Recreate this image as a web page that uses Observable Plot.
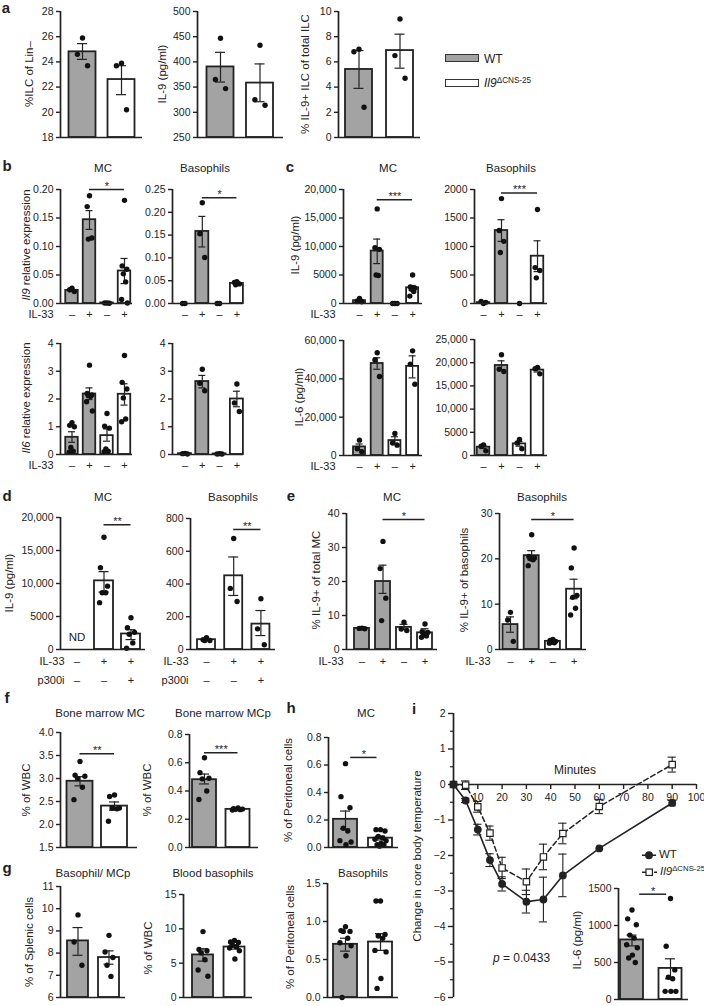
<!DOCTYPE html>
<html><head><meta charset="utf-8">
<script src="https://cdn.jsdelivr.net/npm/d3@7"></script>
<script src="https://cdn.jsdelivr.net/npm/@observablehq/plot@0.6"></script>
<style>
body{margin:0;background:#fff;}
#fig{position:relative;width:704px;height:1006px;overflow:hidden;font-family:"Liberation Sans",Arial,Helvetica,sans-serif;color:#222;background:#fff;}
.lab{position:absolute;white-space:nowrap;line-height:1;}
.lab sup{font-size:0.68em;vertical-align:0.55em;line-height:0;}
.sw{position:absolute;box-sizing:border-box;border:1.3px solid #333;}
</style></head><body><div id="fig"></div>
<script>
// ================= DATA =================
// ---- a ----
const aGroups = ["WT", "KO"];
const a1Ticks = [18, 20, 22, 24, 26, 28];
const a1Mean = [24.8, 22.6];
const a1Lo = [24.2, 21.4];
const a1Hi = [25.45, 23.7];
const a1Pts = [[25.9, 24.6, 23.7], [23.9, 23.7, 20.2]];
const a2Ticks = [250, 300, 350, 400, 450, 500];
const a2Mean = [390, 358];
const a2Lo = [360, 321];
const a2Hi = [419, 396];
const a2Pts = [[447, 365, 347], [433, 325, 314]];
const a3Ticks = [0, 2, 4, 6, 8, 10];
const a3Mean = [5.4, 6.9];
const a3Lo = [3.9, 5.5];
const a3Hi = [6.9, 8.2];
const a3Pts = [[7.0, 6.8, 2.4], [9.4, 6.5, 4.7]];

// ---- b / c : IL-33 stimulation ----
const bcGroups = ["WT", "WT", "KO", "KO"];
const il33Signs = ["–", "+", "–", "+"];
const b1Ticks = [0, 0.05, 0.10, 0.15, 0.20];
const b1Mean = [0.023, 0.147, 0.001, 0.057];
const b1Lo = [0.021, 0.130, null, 0.035];
const b1Hi = [0.025, 0.163, null, 0.079];
const b1Pts = [[0.027, 0.024, 0.021], [0.189, 0.170, 0.115, 0.113], [0.001, 0.001, 0.0005], [0.181, 0.066, 0.060, 0.052, 0.038, 0.007, 0.001]];
const b2Ticks = [0, 0.05, 0.10, 0.15, 0.20, 0.25];
const b2Mean = [0.0, 0.158, 0.0, 0.044];
const b2Lo = [null, 0.124, null, 0.042];
const b2Hi = [null, 0.191, null, 0.046];
const b2Pts = [[0.0, 0.0], [0.221, 0.153, 0.101], [0.0, 0.0], [0.048, 0.046, 0.043, 0.041]];
const c1Ticks = [0, 5000, 10000, 15000, 20000];
const c1Mean = [500, 9200, 0, 2750];
const c1Lo = [300, 7000, null, 2300];
const c1Hi = [750, 11300, null, 3160];
const c1Pts = [[900, 350, 300], [16600, 9800, 9500, 5000, 4900], [0, 0, 0], [5000, 2900, 2700, 2500, 2100, 1300]];
const c2Ticks = [0, 500, 1000, 1500, 2000];
const c2Mean = [15, 1280, 0, 830];
const c2Lo = [5, 1090, null, 560];
const c2Hi = [25, 1470, null, 1100];
const c2Pts = [[0, 35, 20], [1840, 1280, 1090, 895], [0], [1650, 630, 580, 450]];
const b3Ticks = [0, 1, 2, 3, 4];
const b3Mean = [0.62, 2.18, 0.68, 2.17];
const b3Lo = [0.44, 1.98, 0.48, 1.78];
const b3Hi = [0.82, 2.40, 0.92, 2.55];
const b3Pts = [[1.15, 1.05, 1.0, 0.25, 0.12, 0.08], [3.22, 2.2, 2.15, 2.12, 2.1, 1.9, 1.57], [1.48, 1.02, 0.95, 0.2, 0.12, 0.1], [3.57, 2.6, 2.36, 2.04, 1.28, 1.18]];
const b4Ticks = [0, 1, 2, 3, 4];
const b4Mean = [0.03, 2.63, 0.02, 2.0];
const b4Lo = [null, 2.4, null, 1.72];
const b4Hi = [null, 2.85, null, 2.28];
const b4Pts = [[0.04, 0.03, 0.02], [3.07, 2.57, 2.3], [0.03, 0.02, 0.02], [2.54, 1.86, 1.55]];
const c3Ticks = [0, 20000, 40000, 60000];
const c3Mean = [4500, 48000, 7800, 46500];
const c3Lo = [3000, 45000, 6500, 40500];
const c3Hi = [6000, 51000, 9800, 52000];
const c3Pts = [[8000, 3500, 2000], [53600, 49800, 41200], [11500, 6500, 5400], [54600, 47700, 37200]];
const c4Ticks = [0, 5000, 10000, 15000, 20000, 25000];
const c4Mean = [1800, 19400, 2500, 18400];
const c4Lo = [1500, 18500, 2000, 18000];
const c4Hi = [2100, 20400, 3000, 18800];
const c4Pts = [[2300, 2000, 1000], [21700, 18600, 18100], [3450, 2700, 1440], [19000, 18700, 17600]];

// ---- d : p300 inhibitor ----
const dGroups = ["KO", "KO", "KO"];
const dIl33Signs = ["–", "+", "+"];
const dP300Signs = ["–", "–", "+"];
const d1Ticks = [0, 5000, 10000, 15000, 20000];
const d1Mean = [null, 10400, 2350];
const d1Lo = [null, 8700, 1500];
const d1Hi = [null, 11800, 3000];
const d1Pts = [[], [17000, 12400, 9600, 8600, 8600, 7100], [4800, 3300, 2600, 2300, 1000, 200]];
const d2Ticks = [0, 200, 400, 600, 800];
const d2Mean = [60, 450, 155];
const d2Lo = [55, 330, 85];
const d2Hi = [66, 565, 238];
const d2Pts = [[72, 60, 55, 55], [678, 373, 293], [310, 126, 29]];

// ---- e ----
const e1Ticks = [0, 10, 20, 30, 40];
const e1Mean = [6.2, 20.0, 6.5, 4.9];
const e1Lo = [6.1, 16.5, 5.9, 3.9];
const e1Hi = [6.3, 24.8, 7.4, 6.1];
const e1Pts = [[6.3, 6.2, 6.1], [31.8, 23.8, 15.1, 8.5], [8.0, 6.0, 5.6], [7.5, 5.2, 5.0, 4.5, 4.0, 3.6]];
const e2Ticks = [0, 10, 20, 30];
const e2Mean = [5.5, 20.7, 1.8, 13.3];
const e2Lo = [3.8, 19.8, 1.6, 11.2];
const e2Hi = [7.2, 21.8, 2.0, 15.5];
const e2Pts = [[8.2, 6.5, 1.8], [25.3, 20.5, 20.2, 20.0, 19.8, 18.5], [2.2, 2.0, 1.8, 1.6, 1.5, 1.4], [22.4, 18.0, 11.9, 11.5, 9.1, 7.6]];

// ---- f / g / h : two groups ----
const fGroups = ["WT", "KO"];
const f1Ticks = [1.5, 2.0, 2.5, 3.0, 3.5, 4.0];
const f1Mean = [2.94, 2.40];
const f1Lo = [2.84, 2.31];
const f1Hi = [3.04, 2.49];
const f1Pts = [[3.37, 3.07, 3.05, 3.0, 2.81, 2.54], [2.64, 2.61, 2.36, 2.36, 2.34, 2.07]];
const f2Ticks = [0, 0.2, 0.4, 0.6, 0.8];
const f2Mean = [0.48, 0.27];
const f2Lo = [0.45, 0.265];
const f2Hi = [0.52, 0.276];
const f2Pts = [[0.635, 0.53, 0.49, 0.486, 0.40, 0.34], [0.28, 0.275, 0.272, 0.27, 0.268, 0.265]];
const h1Ticks = [0, 0.2, 0.4, 0.6, 0.8];
const h1Mean = [0.205, 0.068];
const h1Lo = [0.135, 0.055];
const h1Hi = [0.265, 0.082];
const h1Pts = [[0.61, 0.37, 0.29, 0.14, 0.12, 0.05, 0.04, 0.02], [0.13, 0.13, 0.12, 0.08, 0.07, 0.06, 0.05, 0.03, 0.02, 0.02, 0.01]];
const g1Ticks = [6, 7, 8, 9, 10, 11];
const g1Mean = [8.55, 7.8];
const g1Lo = [7.9, 7.5];
const g1Hi = [9.15, 8.1];
const g1Pts = [[9.72, 8.5, 7.45], [8.8, 8.05, 7.8, 7.45, 6.95]];
const g2Ticks = [0, 5, 10, 15];
const g2Mean = [6.2, 7.35];
const g2Lo = [5.3, 7.05];
const g2Hi = [7.1, 7.65];
const g2Pts = [[9.6, 7.0, 6.8, 6.5, 5.5, 4.0, 3.1], [8.3, 8.1, 8.0, 7.6, 7.4, 7.2, 6.8, 5.6]];
const h2Ticks = [0, 0.5, 1.0, 1.5];
const h2Mean = [0.70, 0.73];
const h2Lo = [0.61, 0.62];
const h2Hi = [0.78, 0.84];
const h2Pts = [[0.93, 0.88, 0.87, 0.87, 0.78, 0.72, 0.68, 0.55, 0.0], [1.27, 1.27, 0.83, 0.81, 0.78, 0.62, 0.6, 0.25, 0.12]];

// ---- i : core body temperature ----
const iTimeWT = [0, 5, 10, 15, 20, 30, 37, 45, 60, 90];
const iWT = [0, -0.45, -1.27, -2.13, -2.8, -3.3, -3.24, -2.56, -1.8, -0.52];
const iWTerr = [0, 0.06, 0.15, 0.18, 0.2, 0.32, 0.63, 0.6, 0, 0.08];
const iTimeKO = [0, 5, 10, 15, 20, 30, 37, 45, 60, 90];
const iKO = [0, -0.02, -0.63, -1.37, -2.35, -2.74, -2.04, -1.38, -0.62, 0.56];
const iKOerr = [0, 0.12, 0.15, 0.2, 0.3, 0.36, 0.36, 0.29, 0.2, 0.21];
const iYTicks = [-6, -5, -4, -3, -2, -1, 0, 1, 2];
const iYMinor = [-5.5, -4.5, -3.5, -2.5, -1.5, -0.5, 0.5, 1.5];
const iXTicks = [10, 20, 30, 40, 50, 60, 70, 80, 90, 100];
// inset IL-6
const i6Ticks = [0, 500, 1000, 1500];
const i6Mean = [805, 420];
const i6Lo = [725, 280];
const i6Hi = [870, 550];
const i6Pts = [[1210, 1090, 1010, 870, 830, 740, 700, 600, 560, 500], [1365, 720, 400, 300, 280, 110, 110, 110]];

// ================= RENDER =================
const FONT = '"Liberation Sans", Arial, Helvetica, sans-serif';
const INK = "#222";
const GRAY = "#a3a3a3";
const fig = document.getElementById("fig");
const jitPat = [0, -0.5, 0.5, -0.25, 0.25, -0.62, 0.62, 0.05, -0.38, 0.38, -0.1];
const jit = (k, n) => (n <= 1 ? 0 : jitPat[k % jitPat.length]);
const fmtNum = d => (Math.abs(d) >= 10000 ? d3.format(",")(d) : String(d));
const f2 = d3.format(".2f"), f1 = d3.format(".1f");

function place(el, left, top) {
  el.style.position = "absolute";
  el.style.left = left + "px";
  el.style.top = top + "px";
  fig.appendChild(el);
}

function lab(html, x, y, o = {}) {
  const d = document.createElement("div");
  d.className = "lab";
  d.innerHTML = html;
  d.style.fontSize = (o.size || 11.5) + "px";
  if (o.bold) d.style.fontWeight = "bold";
  d.style.left = x + "px";
  d.style.top = y + "px";
  const tx = o.anchor === "start" ? "0" : o.anchor === "end" ? "-100%" : "-50%";
  d.style.transform = `translate(${tx}, -50%)` + (o.rotate ? ` rotate(${o.rotate}deg)` : "");
  fig.appendChild(d);
}

function barPanel(o) {
  const ml = 50, mr = 10, mt = 30, mb = 45;
  const W = ml + (o.end - o.ax) + mr;
  const H = mt + (o.yBot - o.yTop) + mb;
  const n = o.mean.length;
  const idx = d3.range(n);
  const x0 = (o.ax - o.c0) / o.s, x1 = (o.end - o.c0) / o.s;
  const hw = o.w / 2 / o.s;
  const cap = (o.cap || 4) / o.s;
  const [ymin, ymax] = o.domain;
  const fmt = o.fmt || fmtNum;
  const has = i => o.mean[i] != null;
  const wt = idx.filter(i => has(i) && o.groups[i] === "WT");
  const ko = idx.filter(i => has(i) && o.groups[i] !== "WT");
  const errs = idx.filter(i => o.lo[i] != null);
  const caps = errs.flatMap(i => [{i, v: o.lo[i]}, {i, v: o.hi[i]}]);
  const dots = idx.flatMap(i => (o.pts[i] || []).map((v, k, arr) => ({i, v, k, n: arr.length})));
  const marks = [
    Plot.rectY(wt, {x1: i => i - hw, x2: i => i + hw, y1: () => ymin, y2: i => o.mean[i], fill: GRAY, stroke: INK, strokeWidth: 1.8}),
    Plot.rectY(ko, {x1: i => i - hw, x2: i => i + hw, y1: () => ymin, y2: i => o.mean[i], fill: "white", stroke: INK, strokeWidth: 1.8}),
    Plot.ruleX(errs, {x: i => i, y1: i => o.lo[i], y2: i => o.hi[i], stroke: INK, strokeWidth: 1.2}),
    Plot.ruleY(caps, {y: d => d.v, x1: d => d.i - cap, x2: d => d.i + cap, stroke: INK, strokeWidth: 1.2}),
    Plot.dot(dots, {x: d => d.i + jit(d.k, d.n) * hw * 0.75, y: d => d.v, r: 2.7, fill: "#111", stroke: "none"}),
    // axes
    Plot.ruleY([ymin], {stroke: INK, strokeWidth: 1.7}),
    Plot.ruleX([x0], {x: d => d, y1: () => ymin, y2: () => ymax, stroke: INK, strokeWidth: 1.7}),
    Plot.ruleY(o.ticks, {y: d => d, x1: () => x0, x2: () => x0, insetLeft: -4, stroke: INK, strokeWidth: 1.4}),
    Plot.text(o.ticks, {y: d => d, x: () => x0, dx: -7, textAnchor: "end", text: fmt, fontSize: 10.5, fill: INK})
  ];
  (o.rows || []).forEach(r => {
    marks.push(Plot.text(idx, {x: i => i, text: i => r.signs[i], frameAnchor: "bottom", dy: r.dy, fontSize: 11, fill: INK}));
    if (r.label) marks.push(Plot.text([r.label], {text: d => d, frameAnchor: "bottom-left", dx: o.rowDx || -7, dy: r.dy, textAnchor: "end", fontSize: 11, fill: INK}));
  });
  if (o.sig) {
    marks.push(Plot.ruleY([o.sig], {y: d => d.y, x1: d => d.a, x2: d => d.b, stroke: INK, strokeWidth: 1.5}));
    marks.push(Plot.text([o.sig], {x: d => (d.a + d.b) / 2, y: d => d.y, text: d => d.label, dy: -3, fontSize: 11, fill: INK}));
  }
  if (o.note) marks.push(Plot.text([o.note], {x: d => d.i, text: d => d.text, frameAnchor: "bottom", dy: -9, fontSize: 11.5, fill: INK}));
  const svg = Plot.plot({
    width: W, height: H, marginLeft: ml, marginRight: mr, marginTop: mt, marginBottom: mb,
    x: {domain: [x0, x1], axis: null},
    y: {domain: [ymin, ymax], axis: null},
    style: {background: "transparent", fontFamily: FONT, overflow: "visible", color: INK},
    marks
  });
  place(svg, o.ax - ml, o.yTop - mt);
}

// ---- geometry (layout) ----
const A1 = {ax: 60, end: 142, yTop: 11, yBot: 137, c0: 82, s: 39, w: 27};
const A2 = {ax: 197, end: 283, yTop: 11, yBot: 137, c0: 220, s: 39.5, w: 27};
const A3 = {ax: 338, end: 420, yTop: 11, yBot: 137, c0: 358.5, s: 41, w: 27};
const XB1 = {ax: 60, end: 132, c0: 71.5, s: 17.5, w: 12.5, cap: 3.5};
const XB2 = {ax: 172, end: 243, c0: 184.5, s: 17.3, w: 13, cap: 3.5};
const XC1 = {ax: 343, end: 422, c0: 359, s: 17.7, w: 12, cap: 3.5};
const XC2 = {ax: 474, end: 547, c0: 483, s: 18, w: 12.5, cap: 3.5};
const ROW = [{signs: il33Signs, dy: 14, label: "IL-33"}];
const ROWn = [{signs: il33Signs, dy: 14}];

barPanel({...A1, domain: [18, 28], ticks: a1Ticks, groups: aGroups, mean: a1Mean, lo: a1Lo, hi: a1Hi, pts: a1Pts, cap: 5});
barPanel({...A2, domain: [250, 500], ticks: a2Ticks, groups: aGroups, mean: a2Mean, lo: a2Lo, hi: a2Hi, pts: a2Pts, cap: 5});
barPanel({...A3, domain: [0, 10], ticks: a3Ticks, groups: aGroups, mean: a3Mean, lo: a3Lo, hi: a3Hi, pts: a3Pts, cap: 5});

barPanel({...XB1, yTop: 189, yBot: 303, domain: [0, 0.2], ticks: b1Ticks, fmt: f2, groups: bcGroups, mean: b1Mean, lo: b1Lo, hi: b1Hi, pts: b1Pts, rows: ROW, rowDx: -7, sig: {a: 1, b: 3, y: 0.2, label: "*"}});
barPanel({...XB2, yTop: 189, yBot: 303, domain: [0, 0.25], ticks: b2Ticks, fmt: f2, groups: bcGroups, mean: b2Mean, lo: b2Lo, hi: b2Hi, pts: b2Pts, rows: ROWn, sig: {a: 1, b: 3, y: 0.232, label: "*"}});
barPanel({...XC1, yTop: 189, yBot: 303, domain: [0, 20000], ticks: c1Ticks, groups: bcGroups, mean: c1Mean, lo: c1Lo, hi: c1Hi, pts: c1Pts, rows: ROW, rowDx: -8, sig: {a: 1, b: 3, y: 18200, label: "***"}});
barPanel({...XC2, yTop: 189, yBot: 303, domain: [0, 2000], ticks: c2Ticks, groups: bcGroups, mean: c2Mean, lo: c2Lo, hi: c2Hi, pts: c2Pts, rows: ROWn, sig: {a: 1, b: 3, y: 1940, label: "***"}});

barPanel({...XB1, yTop: 343, yBot: 454, domain: [0, 4], ticks: b3Ticks, groups: bcGroups, mean: b3Mean, lo: b3Lo, hi: b3Hi, pts: b3Pts, rows: ROW, rowDx: -7});
barPanel({...XB2, yTop: 343, yBot: 454, domain: [0, 4], ticks: b4Ticks, groups: bcGroups, mean: b4Mean, lo: b4Lo, hi: b4Hi, pts: b4Pts, rows: ROWn});
barPanel({...XC1, yTop: 340, yBot: 455, domain: [0, 60000], ticks: c3Ticks, groups: bcGroups, mean: c3Mean, lo: c3Lo, hi: c3Hi, pts: c3Pts, rows: ROW, rowDx: -8});
barPanel({...XC2, yTop: 339, yBot: 455, domain: [0, 25000], ticks: c4Ticks, groups: bcGroups, mean: c4Mean, lo: c4Lo, hi: c4Hi, pts: c4Pts, rows: ROWn});

const DROWS = [{signs: dIl33Signs, dy: 15, label: "IL-33"}, {signs: dP300Signs, dy: 34, label: "p300i"}];
barPanel({ax: 60, end: 145, yTop: 517, yBot: 649, c0: 76.5, s: 27, w: 19, cap: 5, domain: [0, 20000], ticks: d1Ticks, groups: dGroups, mean: d1Mean, lo: d1Lo, hi: d1Hi, pts: d1Pts, rows: DROWS, rowDx: 4, sig: {a: 1, b: 2, y: 18900, label: "**"}, note: {i: 0, text: "ND"}});
barPanel({ax: 190, end: 275, yTop: 518, yBot: 649, c0: 206, s: 27.2, w: 18, cap: 5, domain: [0, 800], ticks: d2Ticks, groups: dGroups, mean: d2Mean, lo: d2Lo, hi: d2Hi, pts: d2Pts, rows: DROWS, rowDx: -2, sig: {a: 1, b: 2, y: 733, label: "**"}});
const EROW = [{signs: il33Signs, dy: 15, label: "IL-33"}];
barPanel({ax: 346, end: 437, yTop: 513, yBot: 649, c0: 361.5, s: 21, w: 15, cap: 4, domain: [0, 40], ticks: e1Ticks, groups: bcGroups, mean: e1Mean, lo: e1Lo, hi: e1Hi, pts: e1Pts, rows: EROW, rowDx: -3, sig: {a: 1, b: 3, y: 38.2, label: "*"}});
barPanel({ax: 499, end: 586, yTop: 513, yBot: 649, c0: 510, s: 21.2, w: 15, cap: 4, domain: [0, 30], ticks: e2Ticks, groups: bcGroups, mean: e2Mean, lo: e2Lo, hi: e2Hi, pts: e2Pts, rows: EROW, rowDx: -9, sig: {a: 1, b: 3, y: 28.7, label: "*"}});

barPanel({ax: 60, end: 137, yTop: 732, yBot: 847, c0: 79.5, s: 34.5, w: 26, cap: 5, domain: [1.5, 4.0], ticks: f1Ticks, fmt: f1, groups: fGroups, mean: f1Mean, lo: f1Lo, hi: f1Hi, pts: f1Pts, sig: {a: 0, b: 1, y: 3.54, label: "**"}});
barPanel({ax: 189, end: 258, yTop: 734, yBot: 847, c0: 204, s: 33.5, w: 24, cap: 5, domain: [0, 0.8], ticks: f2Ticks, fmt: f1, groups: fGroups, mean: f2Mean, lo: f2Lo, hi: f2Hi, pts: f2Pts, sig: {a: 0, b: 1, y: 0.67, label: "***"}});
barPanel({ax: 328, end: 398, yTop: 737, yBot: 847, c0: 345, s: 35, w: 24, cap: 5, domain: [0, 0.8], ticks: h1Ticks, fmt: f1, groups: fGroups, mean: h1Mean, lo: h1Lo, hi: h1Hi, pts: h1Pts, sig: {a: 0.15, b: 0.9, y: 0.655, label: "*"}});
barPanel({ax: 60, end: 125, yTop: 886, yBot: 997, c0: 77.5, s: 31, w: 21, cap: 5, domain: [6, 11], ticks: g1Ticks, groups: fGroups, mean: g1Mean, lo: g1Lo, hi: g1Hi, pts: g1Pts});
barPanel({ax: 183, end: 252, yTop: 894, yBot: 997, c0: 202.5, s: 31.5, w: 21, cap: 5, domain: [0, 15], ticks: g2Ticks, groups: fGroups, mean: g2Mean, lo: g2Lo, hi: g2Hi, pts: g2Pts});
barPanel({ax: 327, end: 398, yTop: 883, yBot: 997, c0: 345, s: 35, w: 24, cap: 5, domain: [0, 1.5], ticks: h2Ticks, fmt: f1, groups: fGroups, mean: h2Mean, lo: h2Lo, hi: h2Hi, pts: h2Pts});

// ---- i : time course ----
(function () {
  const ml = 50, mr = 10, mt = 20, mb = 20;
  const ax = 453, end = 696, yTop = 713, yBot = 997;
  const W = ml + (end - ax) + mr, H = mt + (yBot - yTop) + mb;
  const wt = iTimeWT.map((t, k) => ({t, v: iWT[k], e: iWTerr[k]}));
  const ko = iTimeKO.map((t, k) => ({t, v: iKO[k], e: iKOerr[k]}));
  const wtE = wt.filter(d => d.e > 0), koE = ko.filter(d => d.e > 0);
  const capsOf = arr => arr.flatMap(d => [{t: d.t, v: d.v - d.e}, {t: d.t, v: d.v + d.e}]);
  const cw = 1.7;
  const svg = Plot.plot({
    width: W, height: H, marginLeft: ml, marginRight: mr, marginTop: mt, marginBottom: mb,
    x: {domain: [0, 100], axis: null},
    y: {domain: [-6, 2], axis: null},
    style: {background: "transparent", fontFamily: FONT, overflow: "visible", color: INK},
    marks: [
      Plot.ruleX([0], {x: d => d, y1: () => -6, y2: () => 2, stroke: INK, strokeWidth: 1.7}),
      Plot.ruleY(iYTicks, {y: d => d, x1: () => 0, x2: () => 0, insetLeft: -5, stroke: INK, strokeWidth: 1.4}),
      Plot.ruleY(iYMinor, {y: d => d, x1: () => 0, x2: () => 0, insetLeft: -3, stroke: INK, strokeWidth: 1.2}),
      Plot.text(iYTicks, {y: d => d, x: () => 0, dx: -8, textAnchor: "end", text: d => d3.format("d")(d), fontSize: 10.5, fill: INK}),
      Plot.ruleY([0], {x1: () => 0, x2: () => 100, stroke: INK, strokeWidth: 1.7}),
      Plot.ruleX(iXTicks, {x: d => d, y1: () => 0, y2: () => 0, insetBottom: -5, stroke: INK, strokeWidth: 1.4}),
      Plot.text(iXTicks, {x: d => d, y: () => 0, dy: 13, text: d => String(d), fontSize: 10.5, fill: INK}),
      Plot.ruleX(koE, {x: "t", y1: d => d.v - d.e, y2: d => d.v + d.e, stroke: INK, strokeWidth: 1.1}),
      Plot.ruleY(capsOf(koE), {y: "v", x1: d => d.t - cw, x2: d => d.t + cw, stroke: INK, strokeWidth: 1.1}),
      Plot.ruleX(wtE, {x: "t", y1: d => d.v - d.e, y2: d => d.v + d.e, stroke: INK, strokeWidth: 1.1}),
      Plot.ruleY(capsOf(wtE), {y: "v", x1: d => d.t - cw, x2: d => d.t + cw, stroke: INK, strokeWidth: 1.1}),
      Plot.line(ko, {x: "t", y: "v", stroke: INK, strokeWidth: 1.5, strokeDasharray: "5,3"}),
      Plot.line(wt, {x: "t", y: "v", stroke: INK, strokeWidth: 1.6}),
      Plot.dot(ko, {x: "t", y: "v", symbol: "square", r: 3.6, fill: "white", stroke: INK, strokeWidth: 1.2}),
      Plot.dot(wt, {x: "t", y: "v", r: 3.9, fill: INK, stroke: "none"})
    ]
  });
  place(svg, ax - ml, yTop - mt);
})();

// inset IL-6
barPanel({ax: 618, end: 688, yTop: 888, yBot: 999, c0: 631.5, s: 38.5, w: 23, cap: 5, domain: [0, 1500], ticks: i6Ticks, groups: fGroups, mean: i6Mean, lo: i6Lo, hi: i6Hi, pts: i6Pts, sig: {a: 0.2, b: 0.9, y: 1423, label: "*"}});

// ================= TEXT (titles, axis labels, letters, legends) =================
const KO_HTML = "<i>Il9</i><sup>ΔCNS-25</sup>";
// panel letters
[["a", 6, 7], ["b", 7, 165], ["c", 290, 166], ["d", 7, 495], ["e", 291, 495], ["f", 7, 697], ["g", 7, 867], ["h", 291, 707], ["i", 414, 708]]
  .forEach(([t, x, y]) => lab(t, x, y, {size: 15, bold: true}));
// titles
[["MC", 103, 169], ["Basophils", 205, 169], ["MC", 388, 169], ["Basophils", 511, 169],
 ["MC", 103, 498], ["Basophils", 233, 498], ["MC", 392, 498], ["Basophils", 542, 498],
 ["Bone marrow MC", 100, 714], ["Bone marrow MCp", 223, 714], ["MC", 366, 714],
 ["Basophil/ MCp", 93, 874], ["Blood basophils", 213, 874], ["Basophils", 363, 874]]
  .forEach(([t, x, y]) => lab(t, x, y, {size: 11.5}));
// y-axis labels
[["%ILC of Lin–", 30, 74], ["IL-9 (pg/ml)", 163, 74], ["% IL-9+ ILC of total ILC", 306, 74],
 ["<i>Il9</i> relative expression", 27, 245], ["IL-9 (pg/ml)", 296, 245],
 ["<i>Il6</i> relative expression", 27, 398], ["IL-6 (pg/ml)", 300, 397],
 ["IL-9 (pg/ml)", 10, 583], ["% IL-9+ of total MC", 317, 580], ["% IL-9+ of basophils", 465, 580],
 ["% of WBC", 27, 790], ["% of WBC", 148, 790], ["% of Peritoneal cells", 289, 790],
 ["% of Splenic cells", 30, 942], ["% of WBC", 149, 948], ["% of Peritoneal cells", 291, 937],
 ["Change in core body temperature", 418, 856], ["IL-6 (pg/ml)", 578, 940]]
  .forEach(([t, x, y]) => lab(t, x, y, {size: 11.5, rotate: -90}));
// legend a
(function () {
  const s1 = document.createElement("div"); s1.className = "sw";
  Object.assign(s1.style, {left: "445px", top: "54px", width: "34px", height: "8px", background: GRAY});
  const s2 = document.createElement("div"); s2.className = "sw";
  Object.assign(s2.style, {left: "445px", top: "79px", width: "34px", height: "8px", background: "#fff"});
  fig.appendChild(s1); fig.appendChild(s2);
  lab("WT", 484, 59, {anchor: "start", size: 12});
  lab(KO_HTML, 484, 83, {anchor: "start", size: 12});
})();
// panel i extras
lab("Minutes", 575, 770, {size: 12});
lab("<i>p</i> = 0.0433", 493, 958, {anchor: "start", size: 12});
lab('<svg width="24" height="10" style="vertical-align:middle"><line x1="0" y1="5" x2="14" y2="5" stroke="#222" stroke-width="1.6"/><circle cx="7" cy="5" r="3.9" fill="#222"/></svg>', 642, 855, {anchor: "start"});
lab("WT", 659, 855, {anchor: "start", size: 11.5});
lab('<svg width="24" height="10" style="vertical-align:middle"><line x1="0" y1="5" x2="15" y2="5" stroke="#222" stroke-width="1.4" stroke-dasharray="4,2"/><rect x="4" y="1.8" width="6.4" height="6.4" fill="#fff" stroke="#222" stroke-width="1.2"/></svg>', 642, 872, {anchor: "start"});
lab(KO_HTML, 660, 872, {anchor: "start", size: 11.5});
</script></body></html>
